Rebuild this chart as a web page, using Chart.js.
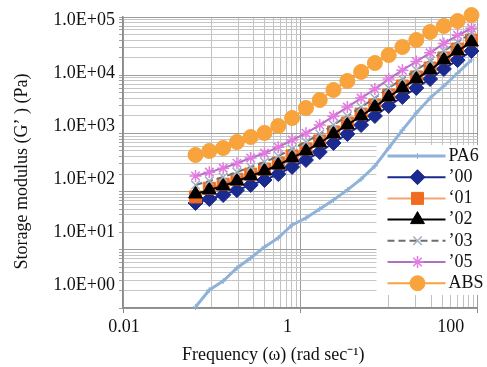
<!DOCTYPE html>
<html>
<head>
<meta charset="utf-8">
<script src="https://cdn.jsdelivr.net/npm/chart.js@4.4.1/dist/chart.umd.min.js"></script>
<style>
  html, body { margin: 0; padding: 0; background: #ffffff; }
  #wrap { width: 487px; height: 367px; }
</style>
</head>
<body>
<div id="wrap"><canvas id="chart" width="487" height="367"></canvas></div>
<script>
// Angular frequency of each measurement point (rad/s)
const frequency = [0.0658, 0.0942, 0.135, 0.193, 0.276, 0.395, 0.565, 0.809, 1.16, 1.66, 2.37,
                   3.40, 4.86, 6.95, 9.95, 14.2, 20.4, 29.2, 41.7, 59.7, 85.5];

// Storage modulus G' (Pa) per material
const pa6   = [1.04, 2.04, 2.91, 4.87, 7.23, 11.2, 16.0, 26.7, 35.2, 50.2, 71.7,
               107, 164, 275, 561, 1140, 2240, 4060, 6520, 10900, 18300];
const g00   = [63.7, 74.6, 87.4, 106, 130, 158, 200, 265, 349, 479, 684,
               977, 1390, 1990, 2960, 4220, 6030, 8610, 12800, 18200, 26000];
const g01   = [81, 114, 134, 163, 200, 244, 309, 410, 540, 741, 1060,
               1510, 2150, 3080, 4580, 6530, 9330, 13300, 19800, 28200, 40200];
const g02   = [91, 107, 125, 152, 186, 226, 286, 379, 499, 685, 978,
               1400, 1990, 2850, 4230, 6030, 8620, 12300, 18300, 26000, 37200];
const g03   = [130, 152, 178, 216, 265, 322, 408, 541, 712, 977, 1400,
               1990, 2840, 4060, 6040, 8610, 12300, 17600, 26100, 37100, 53000];
const g05   = [185, 216, 253, 307, 377, 458, 580, 769, 1010, 1390, 1980,
               2830, 4040, 5770, 8580, 12200, 17200, 24200, 35200, 48500, 64000];
const absG  = [426, 499, 561, 711, 867, 1020, 1340, 1840, 2730, 3750, 5570,
               7950, 11400, 16200, 22200, 30500, 40300, 55200, 70000, 85300, 108000];

const seriesNames = ['PA6', '\u201900', '\u201801', '\u201902', '\u201903', '\u201905', 'ABS'];

// Grid positions (log axes)
const xGridTicks = [0.01, 0.1, 0.2, 0.3, 0.4, 0.5, 0.6, 0.7, 0.8, 0.9, 1,
                    10, 20, 30, 40, 50, 60, 70, 80, 90, 100];
const xMajorTicks = [0.01, 1, 100];
const yGridTicks = [1, 2, 3, 4, 5, 6, 7, 8, 9,
                    10, 20, 30, 40, 50, 60, 70, 80, 90,
                    100, 200, 300, 400, 500, 600, 700, 800, 900,
                    1000, 2000, 3000, 4000, 5000, 6000, 7000, 8000, 9000,
                    10000, 20000, 30000, 40000, 50000, 60000, 70000, 80000, 90000,
                    100000];
const yMajorTicks = [1, 10, 100, 1000, 10000, 100000];

// Tick captions
const xLabelTicks = [0.01, 1, 100];
const xTickLabels = ['0.01', '1', '100'];
const yLabelTicks = [1, 10, 100, 1000, 10000, 100000];
const yTickLabels = ['1.0E+00', '1.0E+01', '1.0E+02', '1.0E+03', '1.0E+04', '1.0E+05'];

const SERIF = '"Liberation Serif", "Times New Roman", serif';

function pts(values) {
  return frequency.map((f, i) => ({ x: f, y: values[i] }));
}
function isIn(list, v) {
  return list.some(m => Math.abs(m - v) / m < 1e-6);
}

// Key drawn as a white panel with line + marker samples
const seriesKey = {
  id: 'seriesKey',
  beforeDatasetsDraw(chart) {
    const ctx = chart.ctx;
    const area = chart.chartArea;
    const left = area.right - 101, top = 145, rowGap = 21.2;
    ctx.save();
    ctx.fillStyle = '#ffffff';
    ctx.fillRect(left, top, chart.width - left, 150);
    chart.data.datasets.forEach((ds, i) => {
      const y = top + 11 + i * rowGap;
      ctx.strokeStyle = ds.borderColor;
      ctx.lineWidth = ds.borderWidth;
      ctx.setLineDash(ds.borderDash || []);
      ctx.beginPath();
      ctx.moveTo(left + 11, y);
      ctx.lineTo(left + 69, y);
      ctx.stroke();
      ctx.setLineDash([]);
      ctx.fillStyle = ds.pointBackgroundColor;
      ctx.strokeStyle = ds.pointBorderColor;
      ctx.lineWidth = ds.pointBorderWidth;
      Chart.helpers.drawPoint(ctx, {
        pointStyle: ds.pointStyle, radius: ds.pointRadius,
        borderWidth: ds.pointBorderWidth, rotation: 0
      }, left + 41, y);
      ctx.fillStyle = '#111111';
      ctx.font = '18px ' + SERIF;
      ctx.textBaseline = 'middle';
      ctx.textAlign = 'left';
      ctx.fillText(ds.label, left + 72, y);
    });
    ctx.restore();
  }
};

function series(label, values, o) {
  return Object.assign({
    label: label,
    data: pts(values),
    borderWidth: 2,
    pointBorderWidth: 1,
    pointHoverRadius: 0,
    tension: 0,
    clip: false,
    fill: false
  }, o);
}

const datasets = [
  series(seriesNames[0], pa6, { borderColor: '#8fb2d9', borderWidth: 3, pointStyle: 'cross', pointRadius: 3,
    pointBackgroundColor: '#8fb2d9', pointBorderColor: '#8fb2d9', pointBorderWidth: 1, order: 7 }),
  series(seriesNames[1], g00, { borderColor: '#1a2a8e', pointStyle: 'rectRot', pointRadius: 7.5,
    pointBackgroundColor: '#1a2a8e', pointBorderColor: '#1a2a8e', order: 6 }),
  series(seriesNames[2], g01, { borderColor: '#f4a470', pointStyle: 'rect', pointRadius: 8.5,
    pointBackgroundColor: '#f06c20', pointBorderColor: '#f06c20', order: 5 }),
  series(seriesNames[3], g02, { borderColor: '#000000', pointStyle: 'triangle', pointRadius: 8,
    pointBackgroundColor: '#000000', pointBorderColor: '#000000', order: 4 }),
  series(seriesNames[4], g03, { borderColor: '#6e6e6e', borderDash: [7, 4], pointStyle: 'crossRot', pointRadius: 6,
    pointBackgroundColor: '#9fb0c4', pointBorderColor: '#9fb0c4', pointBorderWidth: 1.5, order: 3 }),
  series(seriesNames[5], g05, { borderColor: '#b070c4', pointStyle: 'star', pointRadius: 6,
    pointBackgroundColor: '#e27ae0', pointBorderColor: '#e27ae0', pointBorderWidth: 1.5, order: 2 }),
  series(seriesNames[6], absG, { borderColor: '#f8a33c', pointStyle: 'circle', pointRadius: 7.5,
    pointBackgroundColor: '#f8a33c', pointBorderColor: '#f8a33c', order: 1 })
];

new Chart(document.getElementById('chart'), {
  type: 'line',
  data: { datasets: datasets },
  plugins: [seriesKey],
  options: {
    responsive: false,
    animation: false,
    events: [],
    layout: { padding: { top: 17, right: 7, bottom: 0, left: 0 } },
    plugins: { legend: { display: false }, tooltip: { enabled: false } },
    scales: {
      x: {
        type: 'logarithmic', position: 'bottom', min: 0.01, max: 100, weight: 0,
        afterBuildTicks: s => { s.ticks = xGridTicks.map(v => ({ value: v })); },
        afterFit: s => { s.height = 5; },
        ticks: { display: false },
        grid: {
          color: c => isIn(xMajorTicks, c.tick.value) ? '#9c9c9c' : '#c2c2c2',
          lineWidth: 1, drawTicks: true, tickLength: 5,
          tickColor: c => isIn(xMajorTicks, c.tick.value) ? '#8a8a8a' : 'rgba(0,0,0,0)'
        },
        border: { display: true, color: '#8c8c8c', width: 1.5 }
      },
      xLab: {
        type: 'logarithmic', axis: 'x', position: 'bottom', min: 0.00973, max: 212, weight: 1,
        afterBuildTicks: s => { s.ticks = xLabelTicks.map(v => ({ value: v })); },
        afterFit: s => { s.height = 54; },
        ticks: {
          autoSkip: false, maxRotation: 0, padding: 3, color: '#111111',
          font: { family: SERIF, size: 18 },
          callback: (v, i) => xTickLabels[i]
        },
        grid: { display: false, drawTicks: false },
        border: { display: false },
        title: {
          display: true, text: 'Frequency (\u03c9) (rad sec\u207b\u00b9)            ',
          color: '#111111', font: { family: SERIF, size: 18 }, padding: { top: 0, bottom: 1 }
        }
      },
      y: {
        type: 'logarithmic', position: 'left', min: 1, max: 100000, weight: 0,
        afterBuildTicks: s => { s.ticks = yGridTicks.map(v => ({ value: v })); },
        afterFit: s => { s.width = 5; },
        ticks: { display: false },
        grid: {
          color: c => isIn(yMajorTicks, c.tick.value) ? '#9c9c9c' : '#c6c6c6',
          lineWidth: 1, drawTicks: true, tickLength: 4, tickColor: '#a0a0a0'
        },
        border: { display: true, color: '#8c8c8c', width: 1.5 }
      },
      yLab: {
        type: 'logarithmic', axis: 'y', position: 'left', min: 0.368, max: 113900, weight: 1,
        afterBuildTicks: s => { s.ticks = yLabelTicks.map(v => ({ value: v })); },
        afterFit: s => { s.width = 118; },
        ticks: {
          autoSkip: false, padding: 3, color: '#111111',
          font: { family: SERIF, size: 18 },
          callback: (v, i) => yTickLabels[i]
        },
        grid: { display: false, drawTicks: false },
        border: { display: false },
        title: {
          display: true, text: 'Storage modulus (G\u2019 ) (Pa)    ',
          color: '#111111', font: { family: SERIF, size: 18 }, padding: { top: 11, bottom: 0 }
        }
      }
    }
  }
});
</script>
</body>
</html>
